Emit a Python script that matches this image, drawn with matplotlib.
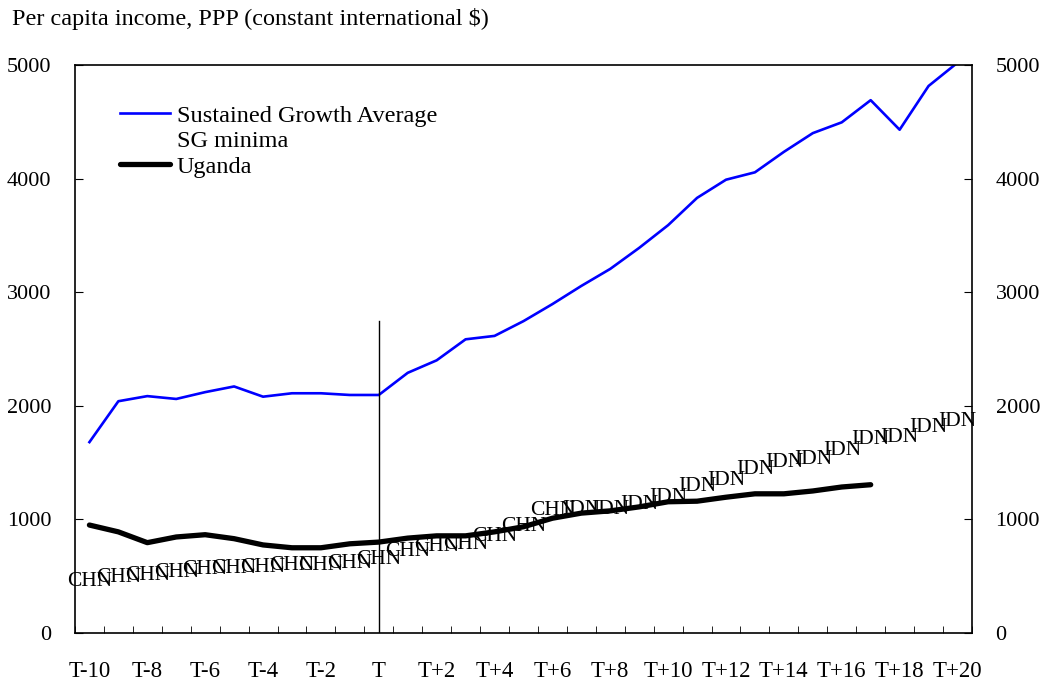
import matplotlib
matplotlib.use("Agg")
import matplotlib.pyplot as plt
from matplotlib.lines import Line2D
from matplotlib.ticker import MultipleLocator

plt.rcParams['font.family'] = ['Liberation Serif', 'DejaVu Serif']

periods = ["T-10", "T-9", "T-8", "T-7", "T-6", "T-5", "T-4", "T-3", "T-2", "T-1",
           "T", "T+1", "T+2", "T+3", "T+4", "T+5", "T+6", "T+7", "T+8", "T+9",
           "T+10", "T+11", "T+12", "T+13", "T+14", "T+15", "T+16", "T+17", "T+18",
           "T+19", "T+20"]

sg_average = [1680, 2040, 2085, 2060, 2120, 2170, 2080, 2110, 2110, 2095,
              2095, 2290, 2400, 2585, 2615, 2745, 2895, 3055, 3205, 3390,
              3590, 3830, 3990, 4055, 4235, 4400, 4495, 4690, 4430, 4815, 5020]

uganda = [950, 890, 795, 845, 865, 830, 775, 750, 750, 785,
          800, 835, 855, 855, 890, 935, 1010, 1055, 1075, 1110,
          1155, 1160, 1195, 1225, 1225, 1250, 1285, 1305]

sg_minima = [450, 485, 510, 535, 555, 570, 572, 598, 590, 615,
             643, 713, 757, 775, 845, 935, 1075, 1085, 1085, 1135,
             1195, 1285, 1345, 1435, 1505, 1525, 1610, 1700, 1725, 1805, 1865]

minima_country = ["CHN"] * 17 + ["IDN"] * 14

fig = plt.figure(figsize=(10.44, 6.86), dpi=100)
ax = fig.add_axes([0.0718, 0.0773, 0.8592, 0.828])

x = list(range(len(periods)))
ax.plot(x, sg_average, color="#0000ff", linewidth=1.9, label="Sustained Growth Average")
ax.plot(x[:len(uganda)], uganda, color="black", linewidth=3.8,
        solid_capstyle="round", label="Uganda")

for i, (v, c) in enumerate(zip(sg_minima, minima_country)):
    ax.text(i, v, c, ha="center", va="center", fontsize=15.5)

# event line at T
t_idx = periods.index("T")
ax.plot([t_idx, t_idx], [0, 2750], color="black", linewidth=1)

ax.set_xlim(-0.5, len(periods) - 0.5)
ax.set_ylim(0, 5000)

ax.set_xticks(x[::2])
ax.set_xticklabels(periods[::2], fontsize=16.5)
ax.xaxis.set_minor_locator(MultipleLocator(1, offset=0.5))
ax.tick_params(axis="x", which="major", length=0, pad=20)
ax.tick_params(axis="x", which="minor", direction="in", length=5, top=False)

ax.set_yticks(range(0, 5001, 1000))
ax.tick_params(axis="y", direction="in", length=6, left=True, right=True,
               labelleft=True, labelright=True, labelsize=16, pad=17)

for s in ax.spines.values():
    s.set_linewidth(1.2)

handles = [Line2D([], [], color="#0000ff", linewidth=1.9),
           Line2D([], [], color="none"),
           Line2D([], [], color="black", linewidth=3.8, solid_capstyle="round")]
labels = ["Sustained Growth Average", "SG minima", "Uganda"]
ax.legend(handles, labels, loc="upper left", bbox_to_anchor=(0.05, 0.93),
          frameon=False, fontsize=17.5, handlelength=2.05, handletextpad=0.3,
          labelspacing=0.14, borderpad=0, borderaxespad=0)

fig.text(0.0115, 0.973, "Per capita income, PPP (constant international $)",
         fontsize=17.5, ha="left", va="center")

fig.savefig("out.png", dpi=100)
